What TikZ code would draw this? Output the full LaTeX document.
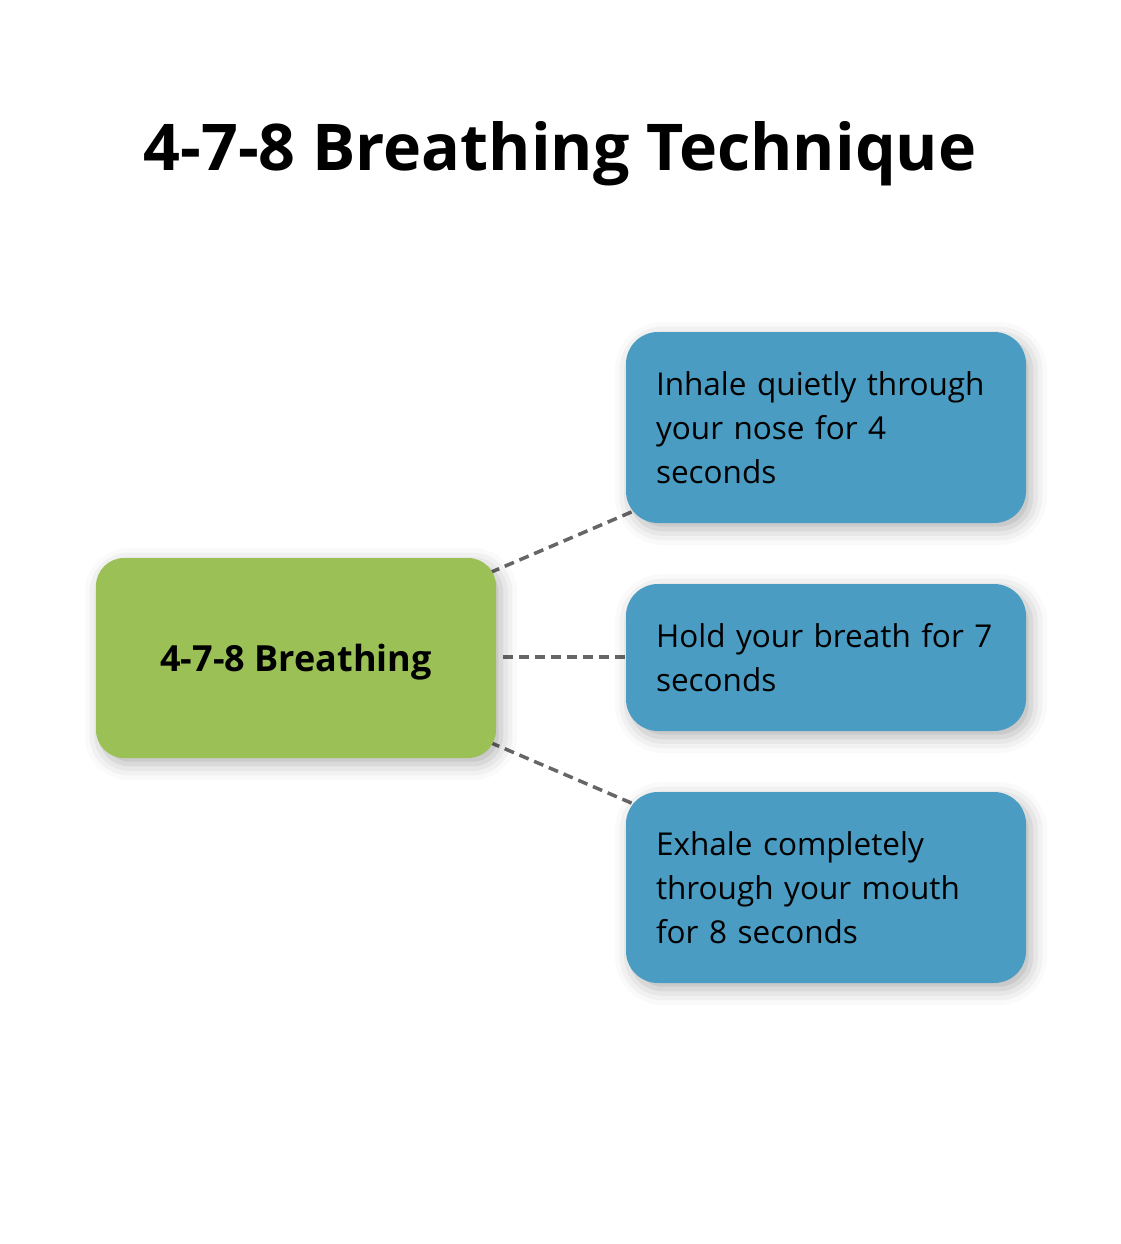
\documentclass[tikz,border=0pt]{standalone}
\usepackage{fontspec}
\setmainfont{Open Sans}
\usetikzlibrary{shadows.blur,calc}
\definecolor{greenbox}{HTML}{9BC055}
\definecolor{bluebox}{HTML}{4A9CC3}
\definecolor{dashgray}{HTML}{666666}
\tikzset{
  softshadow/.style={blur shadow={shadow xshift=5pt, shadow yshift=-6pt, shadow blur radius=16pt, shadow opacity=30}},
  mainbox/.style={fill=greenbox, rounded corners=28pt, minimum width=400pt, minimum height=200pt, inner sep=0pt, softshadow,
    font=\fontsize{36}{44}\selectfont\bfseries, align=center, text depth=0pt},
  stepbox/.style={fill=bluebox, rounded corners=32pt, minimum width=400pt, inner xsep=30pt, inner ysep=0pt,
    text width=340pt, align=left, softshadow, font=\fontsize{31.5}{44}\selectfont},
  link/.style={draw=dashgray, line width=3.5pt, dash pattern=on 10pt off 6pt}
}
\begin{document}
\begin{tikzpicture}[x=1pt,y=-1pt]
\useasboundingbox (0,0) rectangle (1120,1244);
\node[font=\fontsize{64.5}{80}\selectfont\bfseries] (title) at (560,154) {4-7-8 Breathing Technique};
% connectors (drawn first, behind boxes)
\coordinate (c1a) at (490,572.6);
\coordinate (c1b) at (640,508.3);
\coordinate (c2a) at (503,657);
\coordinate (c2b) at (626,657);
\coordinate (c3a) at (490,742.4);
\coordinate (c3b) at (640,806.7);
\draw[link] (c1a) -- (c1b);
\draw[link] (c2a) -- (c2b);
\draw[link] (c3a) -- (c3b);
\node[mainbox] (g) at (296,658) {4-7-8 Breathing};
\node[stepbox, minimum height=191pt] (b1) at (826,427.5) {Inhale quietly through\\your nose for 4\\seconds};
\node[stepbox, minimum height=147pt] (b2) at (826,657.5) {\mbox{Hold your breath for 7}\\seconds};
\node[stepbox, minimum height=191pt] (b3) at (826,887.5) {Exhale completely\\through your mouth\\for 8 seconds};
\end{tikzpicture}
\end{document}
